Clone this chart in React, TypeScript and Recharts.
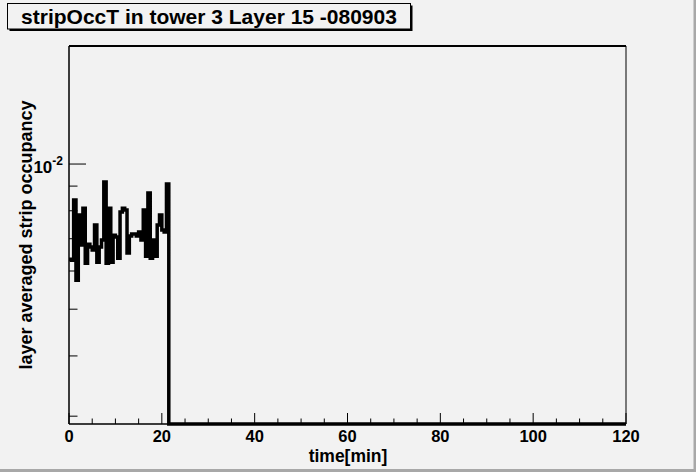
import React from 'react';
import { LineChart, Line, XAxis, YAxis, ReferenceArea, ReferenceLine } from 'recharts';

const W = 696;
const H = 472;
const BG = '#f2f2f2';
const FONT = '"Liberation Sans", Arial, Helvetica, sans-serif';

// layer averaged strip occupancy per 0.5 min bin, tower 3 layer 15
const BIN_WIDTH = 0.5;
const occupancy = [
  6.35e-3, 6.32e-3, 8.42e-3, 5.74e-3, 7.84e-3, 6.79e-3, 8.1e-3, 6.23e-3, 6.82e-3, 6.73e-3,
  6.63e-3, 7.47e-3, 6.26e-3, 6.73e-3, 6.96e-3, 9.18e-3, 6.23e-3, 8.1e-3, 6.26e-3, 7.12e-3,
  7.06e-3, 6.38e-3, 7.95e-3, 8.1e-3, 8.03e-3, 6.54e-3, 7.09e-3, 7.16e-3, 7.16e-3, 7.09e-3,
  7.23e-3, 6.96e-3, 8.03e-3, 6.44e-3, 8.71e-3, 6.38e-3, 6.96e-3, 6.44e-3, 7.47e-3, 7.84e-3,
  7.3e-3, 7.23e-3, 9.09e-3,
];
const T_END = 120;

const Y_MIN = 2.89e-3;
const Y_MAX = 1.757e-2;

const xMajor = [0, 20, 40, 60, 80, 100, 120];
const xTicks = [0, 5, 10, 15, 20, 25, 30, 35, 40, 45, 50, 55, 60, 65, 70, 75, 80, 85, 90, 95, 100, 105, 110, 115, 120];
const yTicks = [3e-3, 4e-3, 5e-3, 6e-3, 7e-3, 8e-3, 9e-3, 1e-2];

// empty bins after the run are drawn on the bottom of the frame
const data = occupancy.map((v, i) => ({ t: i * BIN_WIDTH, occ: v }));
data.push({ t: occupancy.length * BIN_WIDTH, occ: Y_MIN }, { t: T_END, occ: Y_MIN });

const XTick = (props: any) => {
  const { x, y, payload } = props;
  const major = xMajor.includes(payload.value);
  return (
    <g>
      <line x1={x} x2={x} y1={y} y2={y - (major ? 11 : 5.5)} stroke="#000" strokeWidth={1} />
      {major && (
        <text x={x} y={y + 17.5} textAnchor="middle" fontFamily={FONT} fontWeight="bold" fontSize={16.5} fill="#000">
          {payload.value}
        </text>
      )}
    </g>
  );
};

const YTick = (props: any) => {
  const { x, y, payload } = props;
  const major = payload.value === 1e-2;
  return (
    <g>
      <line x1={x} x2={x + (major ? 17 : 8.5)} y1={y} y2={y} stroke="#000" strokeWidth={1} />
      {major && (
        <text x={63} y={y + 9} textAnchor="end" fontFamily={FONT} fontWeight="bold" fontSize={17} fill="#000">
          10<tspan dy={-8} fontSize={12}>-2</tspan>
        </text>
      )}
    </g>
  );
};

export default function App() {
  return (
    <div style={{ position: 'absolute', left: 0, top: 0, width: W, height: H, background: BG, overflow: 'hidden' }}>
      <div style={{ position: 'absolute', left: 0, top: 0 }}>
        <LineChart width={W} height={H} data={data} margin={{ top: 46, right: 70, bottom: 0, left: 0 }}>
          <XAxis
            dataKey="t"
            type="number"
            domain={[0, T_END]}
            ticks={xTicks}
            interval={0}
            tickSize={0}
            tickMargin={0}
            height={48}
            tick={<XTick />}
            axisLine={{ stroke: '#000', strokeWidth: 1 }}
            tickLine={false}
          />
          <YAxis
            type="number"
            scale="log"
            domain={[Y_MIN, Y_MAX]}
            ticks={yTicks}
            interval={0}
            tickSize={0}
            tickMargin={0}
            width={69}
            tick={<YTick />}
            axisLine={{ stroke: '#000', strokeWidth: 1 }}
            tickLine={false}
          />
          <ReferenceArea x1={0} x2={T_END} y1={Y_MIN} y2={Y_MAX} fill="none" stroke="#000" strokeWidth={1} fillOpacity={0} />
          <ReferenceLine y={Y_MAX} stroke="#000" strokeWidth={2} />
          <Line
            type="stepAfter"
            dataKey="occ"
            stroke="#000"
            strokeWidth={3.5}
            dot={false}
            activeDot={false}
            isAnimationActive={false}
          />
        </LineChart>
      </div>
      <svg width={W} height={H} style={{ position: 'absolute', left: 0, top: 0, pointerEvents: 'none' }}>
        <rect x={9.5} y={5.5} width={403} height={25.5} fill="#000" />
        <rect x={7.5} y={3.5} width={403} height={25.5} fill={BG} stroke="#000" strokeWidth={1} />
        <text x={209} y={24} textAnchor="middle" fontFamily={FONT} fontWeight="bold" fontSize={21} fill="#000">
          stripOccT in tower 3 Layer 15 -080903
        </text>
        <text x={348} y={462} textAnchor="middle" fontFamily={FONT} fontWeight="bold" fontSize={17.5} fill="#000">
          time[min]
        </text>
        <text
          x={32}
          y={235}
          textAnchor="middle"
          transform="rotate(-90, 32, 235)"
          fontFamily={FONT}
          fontWeight="bold"
          fontSize={18}
          fill="#000"
        >
          layer averaged strip occupancy
        </text>
        <rect x={693.5} y={0} width={2.5} height={H} fill="#a8a8a8" />
        <rect x={0} y={469} width={W} height={3} fill="#a8a8a8" />
      </svg>
    </div>
  );
}
